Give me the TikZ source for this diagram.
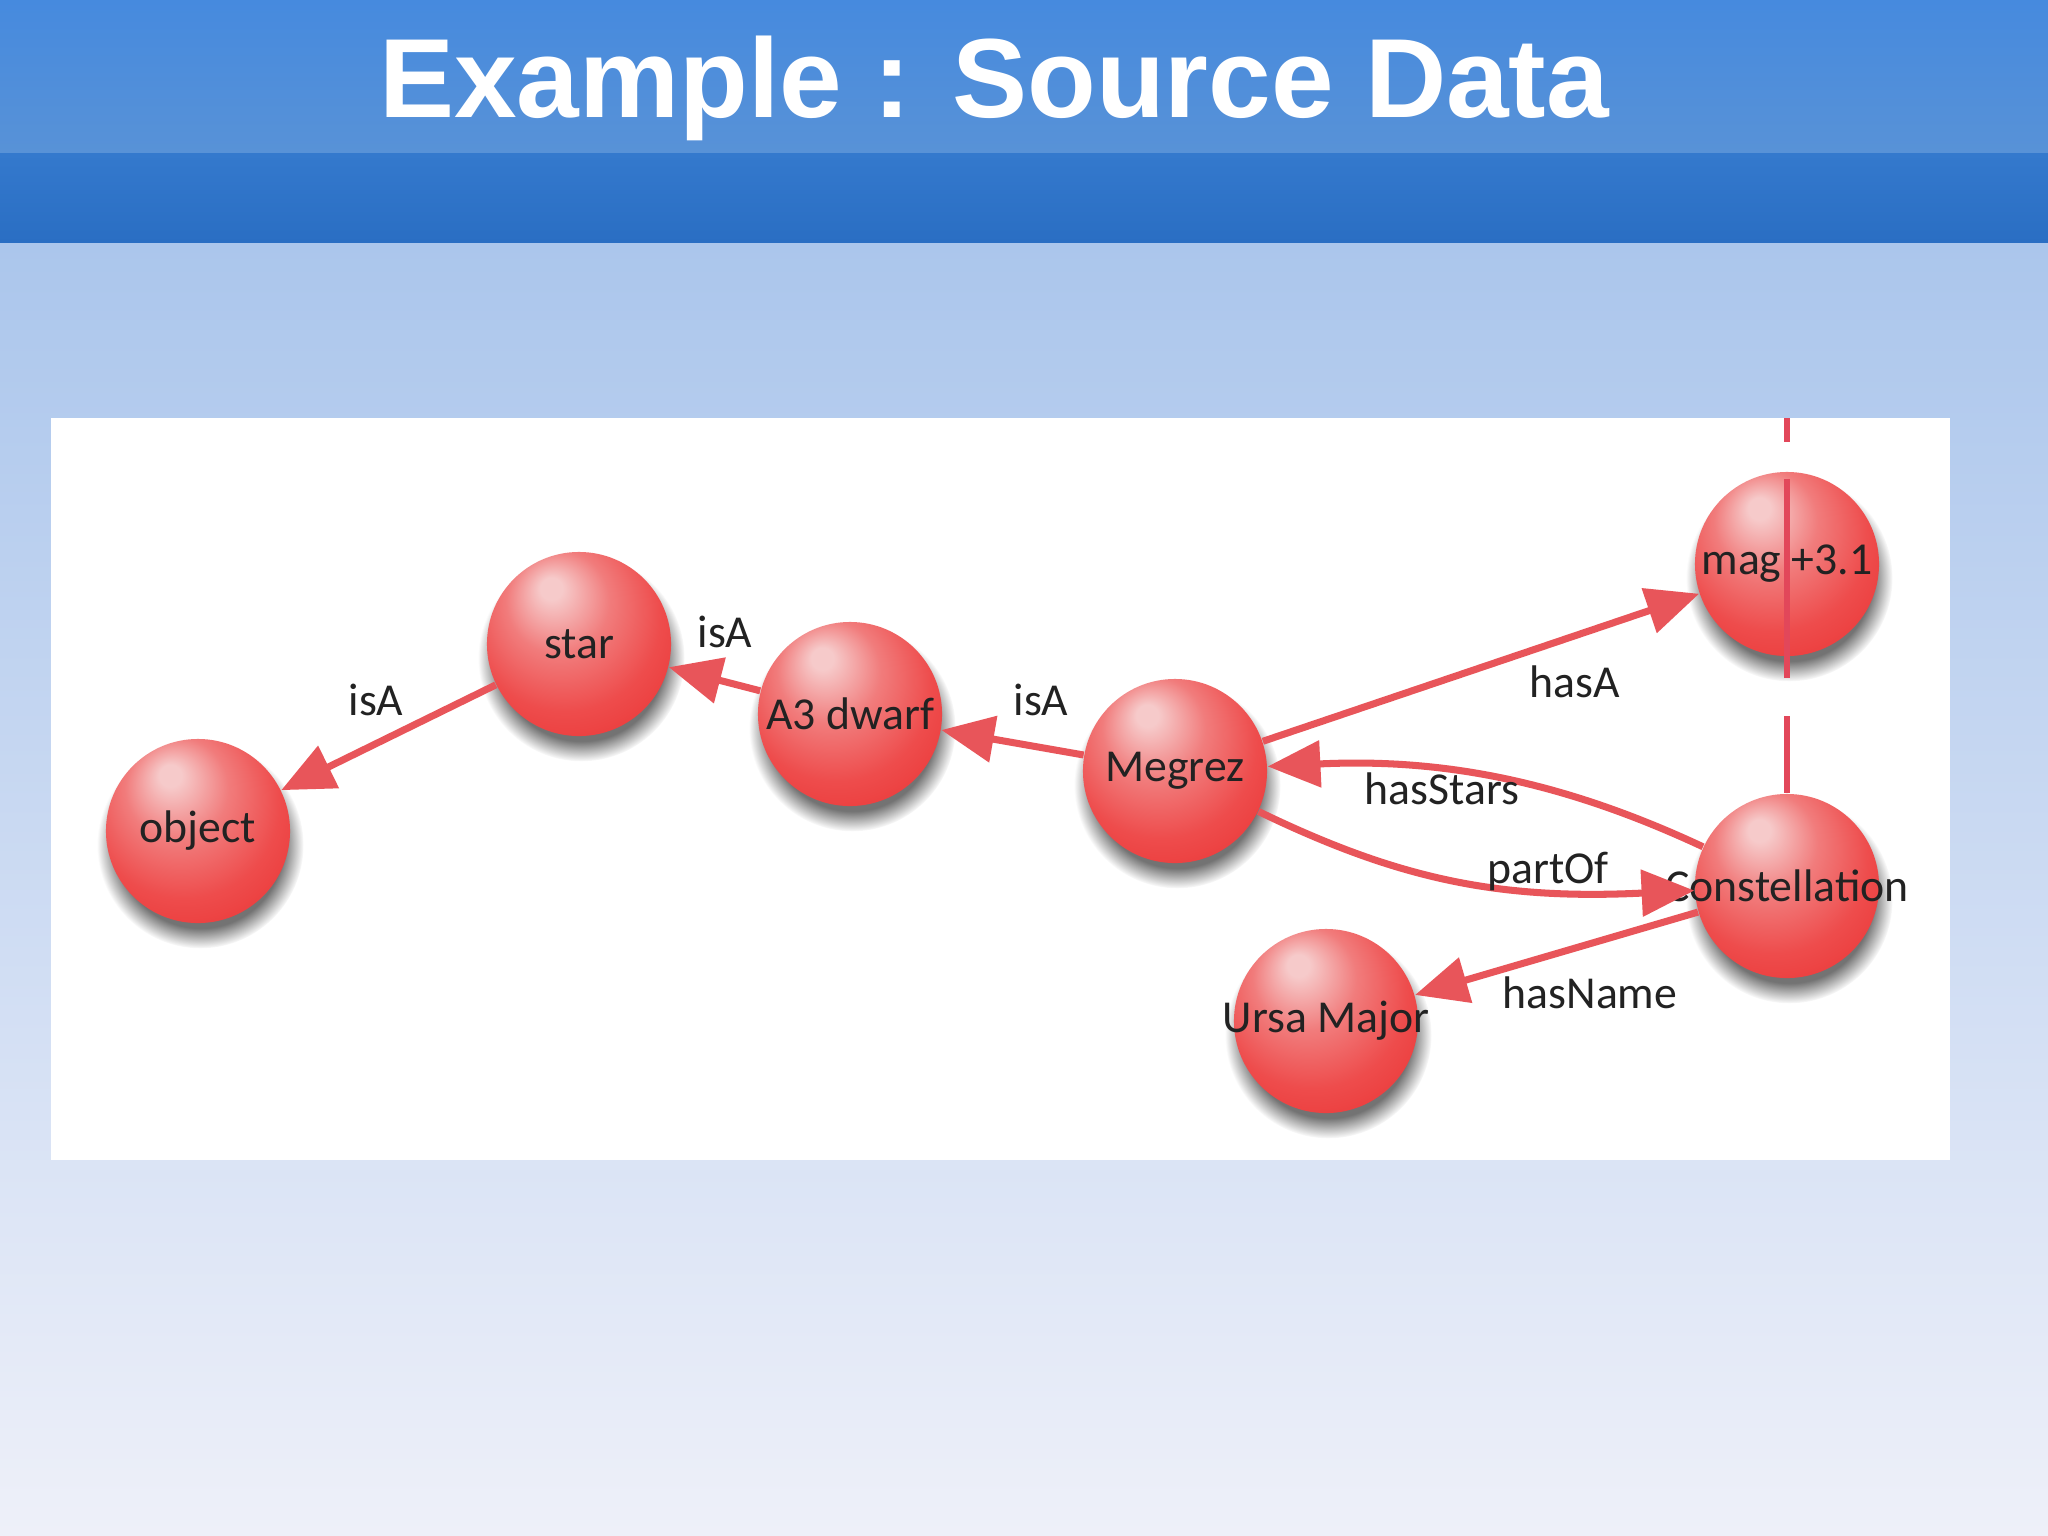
\documentclass[tikz,border=0pt]{standalone}
\usepackage{fontspec}
\setmainfont{Liberation Sans}
\newfontfamily\lblfont{Carlito}
\usetikzlibrary{arrows.meta,shadows,fadings}
\definecolor{arrowred}{HTML}{E8555A}
\definecolor{vred}{HTML}{E2475A}
\definecolor{sphA}{HTML}{F6CACA}
\definecolor{sphB}{HTML}{F17C7C}
\definecolor{sphC}{HTML}{EE4C4C}
\definecolor{sphD}{HTML}{EA3434}
\definecolor{sphE}{HTML}{E62626}
\definecolor{bandA}{HTML}{468ADE}
\definecolor{bandB}{HTML}{5892D7}
\definecolor{bandC}{HTML}{3479CD}
\definecolor{bandD}{HTML}{2A6EC3}
\definecolor{bgA}{HTML}{ABC6EC}
\definecolor{bgM}{HTML}{D3DDF0}
\definecolor{bgB}{HTML}{EEF0F9}
\definecolor{txt}{HTML}{222222}
\pgfdeclareradialshading{redsphere}{\pgfpoint{-8bp}{16bp}}{color(0bp)=(sphA); color(3bp)=(sphA); color(14bp)=(sphB); color(26bp)=(sphC); color(38bp)=(sphD); color(50bp)=(sphE)}
\begin{document}
\begin{tikzpicture}[x=0.01cm, y=-0.01cm,
  sphere/.style={circle, minimum size=1.84cm, inner sep=0pt, shading=redsphere,
    general shadow={fill=black!55, path fading={circle with fuzzy edge 20 percent},
      shadow scale=1.12, shadow xshift=0.6pt, shadow yshift=-3.6pt}},
  sphtext/.style={font=\lblfont\fontsize{13}{15}\selectfont, text=txt, inner sep=0pt},
  lbl/.style={font=\lblfont\fontsize{13}{15}\selectfont, text=txt, inner sep=0pt},
  arr/.style={draw=arrowred, line width=2pt, -{Triangle[length=15pt,width=13pt]}},
  vseg/.style={draw=vred, line width=1.5pt},
  titletext/.style={font=\bfseries\fontsize{32}{36}\selectfont, text=white, inner sep=0pt}]
\useasboundingbox (0,0) rectangle (2048,1535);
% background
\shade[top color=bandA, bottom color=bandB] (0,0) rectangle (2048,153);
\shade[top color=bandC, bottom color=bandD] (0,153) rectangle (2048,243);
\shade[top color=bgA, middle color=bgM, bottom color=bgB] (0,243) rectangle (2048,1535);
\fill[white] (51,418) rectangle (1950,1160);
% title
\node[titletext, anchor=base] (title) at (994,117) {Example : Source Data};
% spheres
\node[sphere, label={[sphtext]center:object}] (object) at (198,831) {};
\node[sphere, label={[sphtext]center:star}] (star) at (579,644) {};
\node[sphere, label={[sphtext]center:A3 dwarf}] (a3) at (850,714) {};
\node[sphere, label={[sphtext]center:Megrez}] (megrez) at (1175,771) {};
\node[sphere, label={[sphtext]center:mag +3.1}] (mag) at (1787,564) {};
\node[sphere, label={[sphtext]center:Constellation}] (con) at (1787,886) {};
\node[sphere, label={[sphtext]center:Ursa Major}] (ursa) at (1326,1021) {};
% vertical segments
\coordinate (vtop) at (1787,418);
\draw[vseg] (vtop) -- (1787,442);
\draw[vseg] (1787,479) -- (1787,678);
\draw[vseg] (1787,716) -- (con.north);
% connectors
\draw[arr] (star) -- (object);
\draw[arr] (a3) -- (star);
\draw[arr] (megrez) -- (a3);
\draw[arr] (megrez) -- (mag);
\draw[arr] (con) .. controls (1560,780) and (1440,758) .. (megrez);
\draw[arr] (megrez) .. controls (1400,880) and (1500,900) .. (con);
\draw[arr] (con) -- (ursa);
% labels
\node[lbl] (l1) at (376,700) {isA};
\node[lbl] (l2) at (725,632) {isA};
\node[lbl] (l3) at (1041,700) {isA};
\node[lbl] (l4) at (1575,682) {hasA};
\node[lbl] (l5) at (1442,789) {hasStars};
\node[lbl] (l6) at (1548,871) {partOf};
\node[lbl] (l7) at (1590,993) {hasName};
\end{tikzpicture}
\end{document}
